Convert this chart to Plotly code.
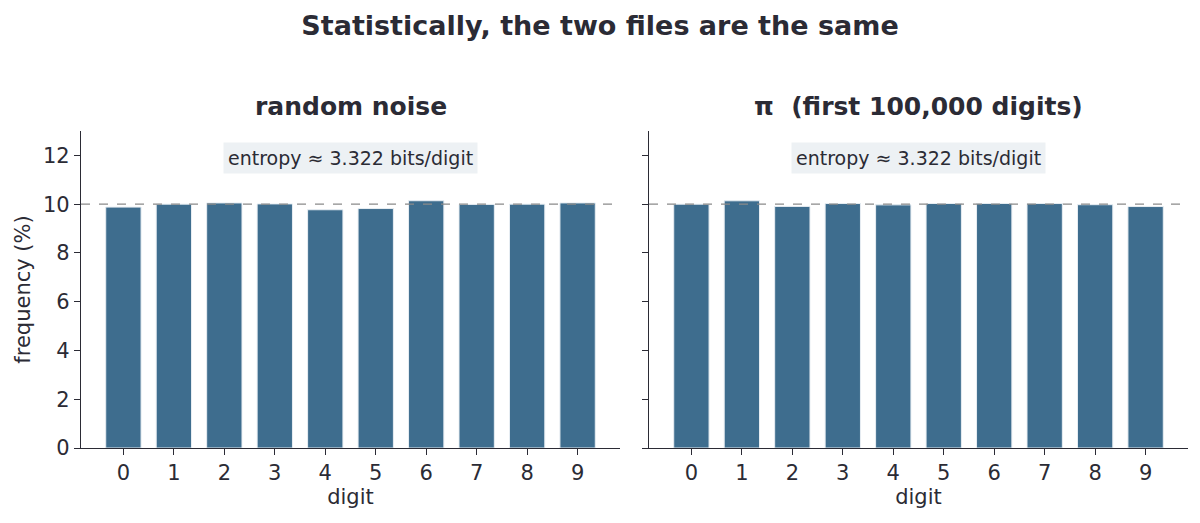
import plotly.graph_objects as go
from plotly.subplots import make_subplots

# digit frequencies (%)
digits = list(range(10))
noise_freq = [9.88, 10.00, 10.05, 10.01, 9.77, 9.82, 10.14, 9.99, 10.00, 10.05]
pi_freq = [9.999, 10.137, 9.908, 10.025, 9.971, 10.026, 10.029, 10.025, 9.978, 9.902]
panel_titles = ["random noise", "π  (first 100,000 digits)"]
entropy_text = "entropy ≈ 3.322 bits/digit"
expected = 10

bar_color = "#3e6d8e"
ink = "#2b2b35"
font = "DejaVu Sans"

fig = make_subplots(rows=1, cols=2, shared_yaxes=True, horizontal_spacing=0.0262)

for i, vals in enumerate([noise_freq, pi_freq], start=1):
    fig.add_trace(go.Bar(
        x=digits, y=vals, width=0.7,
        marker=dict(color=bar_color, line=dict(color="#e8eef3", width=1)),
        showlegend=False,
    ), row=1, col=i)
    fig.add_hline(y=expected, line=dict(color="#8a8a8a", width=1.3, dash="dash"), row=1, col=i)
    xref = "x" if i == 1 else "x2"
    fig.add_annotation(
        x=4.5, y=11.9, xref=xref, yref="y", text=entropy_text, showarrow=False,
        font=dict(family=font, size=19, color=ink),
        bgcolor="#edf1f4", borderpad=4,
    )
    fig.add_annotation(
        x=4.5, y=1.0, xref=xref, yref="paper", yshift=25, text="<b>%s</b>" % panel_titles[i - 1],
        showarrow=False, font=dict(family=font, size=25, color=ink), yanchor="middle",
    )

axis_common = dict(
    showline=True, linecolor=ink, linewidth=1.3, ticks="outside", ticklen=6,
    tickcolor=ink, showgrid=False, zeroline=False, automargin=False,
    tickfont=dict(family=font, size=21, color=ink),
)
fig.update_xaxes(range=[-0.84, 9.84], tickvals=digits, title_text="digit",
                 title_font=dict(family=font, size=21, color=ink), title_standoff=4,
                 **axis_common)
fig.update_yaxes(range=[0, 13], tickvals=[0, 2, 4, 6, 8, 10, 12], **axis_common)
fig.update_yaxes(title_text="frequency (%)", title_font=dict(family=font, size=21, color=ink),
                 title_standoff=6, row=1, col=1)
fig.update_yaxes(showticklabels=False, row=1, col=2)

fig.update_layout(
    width=1200, height=523,
    margin=dict(l=81, r=12, t=131, b=75),
    plot_bgcolor="white", paper_bgcolor="white",
    title=dict(text="<b>Statistically, the two files are the same</b>", x=0.5, xanchor="center",
               y=0.952, yanchor="middle", font=dict(family=font, size=27, color=ink)),
    bargap=0.3,
)

fig.write_html("out.html", config={"displayModeBar": False},
               post_script="document.body.style.margin='0';")
